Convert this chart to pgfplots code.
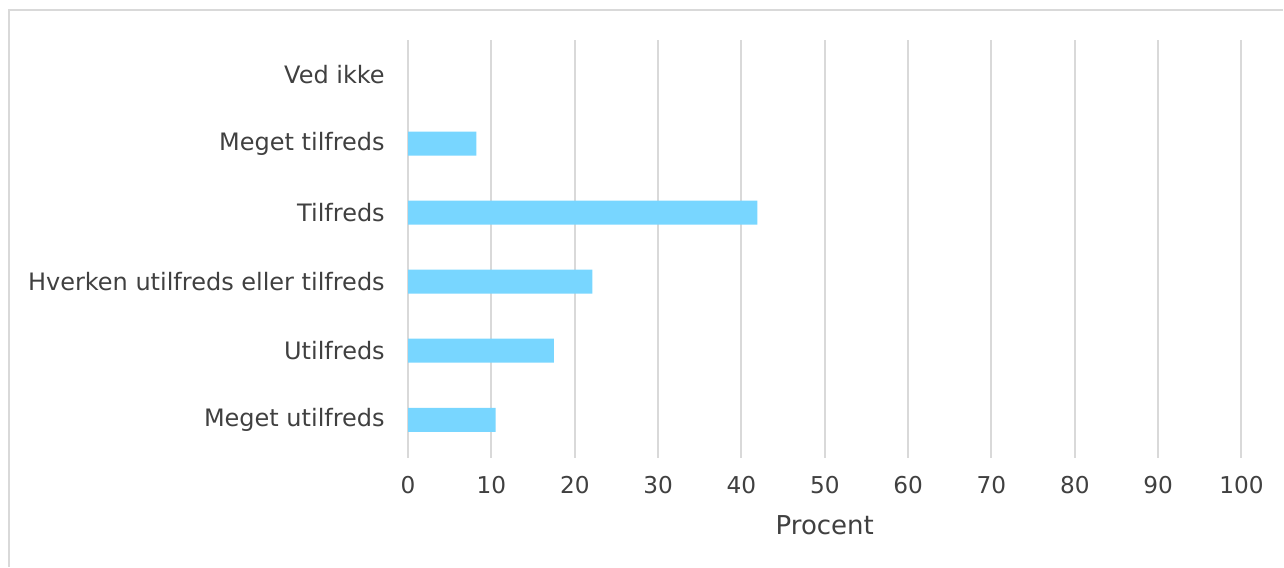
\documentclass[border=0pt]{standalone}
\usepackage{pgfplots}
\pgfplotsset{compat=1.18}
\usepackage{fontspec}
\setmainfont{DejaVu Sans}
\definecolor{barc}{RGB}{120,214,255}
\definecolor{gridc}{RGB}{217,217,217}
\definecolor{txt}{RGB}{64,64,64}
\begin{document}
\begin{tikzpicture}
\begin{axis}[
  at={(0,0)}, anchor=south west,
  scale only axis, width=416.85pt, height=209pt,
  xmin=0, xmax=100, ymin=-0.55, ymax=5.5,
  xtick={0,10,...,100},
  ytick={0,1,2,3,4,5},
  yticklabels={Meget utilfreds,Utilfreds,Hverken utilfreds eller tilfreds,Tilfreds,Meget tilfreds,Ved ikke},
  axis line style={draw=none},
  major tick length=0pt,
  xmajorgrids,
  grid style={gridc, line width=1pt},
  font=\fontsize{11.6}{14}\selectfont,
  x tick label style={anchor=center, yshift=-13.5pt, text=txt},
  y tick label style={anchor=east, inner sep=0pt, xshift=-11.5pt, text=txt, font=\fontsize{12}{14}\selectfont},
  xlabel={Procent},
  xlabel style={at={(axis description cs:0.5,0)}, anchor=center, yshift=-33.5pt, text=txt, font=\fontsize{13}{15}\selectfont},
  xbar, bar width=12pt,
  /pgf/number format/assume math mode=true,
]
\addplot[fill=barc, draw=none] coordinates {(10.5,0) (17.5,1) (22.1,2) (41.9,3) (8.2,4)};
\end{axis}
\draw[gridc, line width=0.6pt] (-199.65pt,-54.5pt) -- (-199.65pt,224pt) -- (437.85pt,224pt);
\path[use as bounding box] (-204.15pt,-54.5pt) rectangle (437.85pt,229pt);
\end{tikzpicture}
\end{document}
